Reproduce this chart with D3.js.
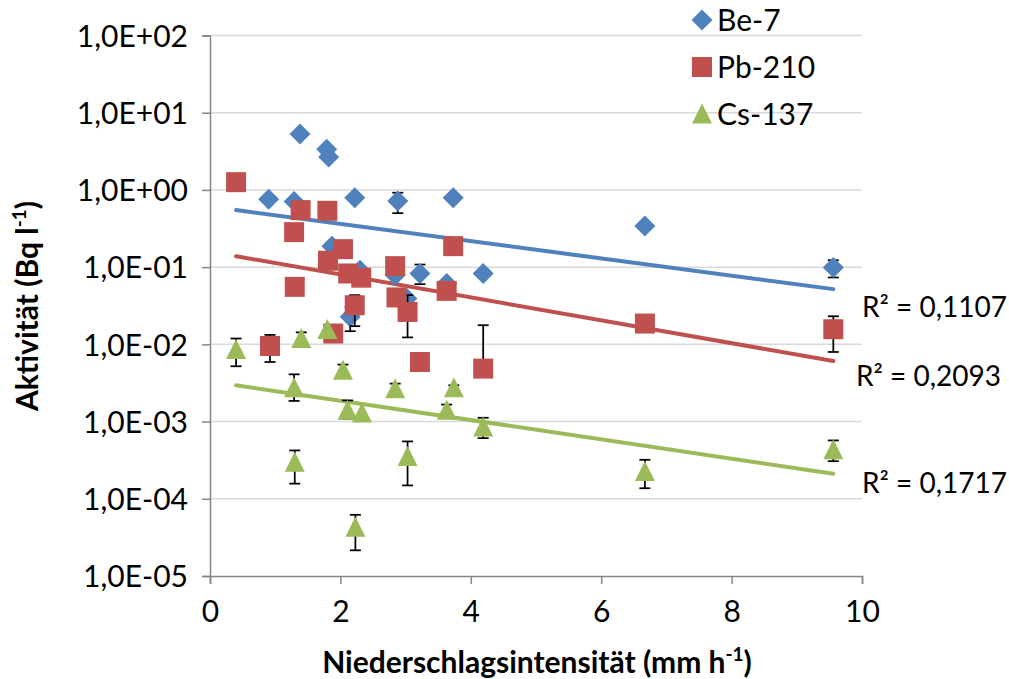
<!DOCTYPE html>
<html>
<head>
<meta charset="utf-8">
<script src="https://cdn.jsdelivr.net/npm/d3@7/dist/d3.min.js"></script>
<style>
  html, body { margin: 0; padding: 0; background: #fff; }
  svg { display: block; }
  text { font-family: Lato, "Open Sans", sans-serif; fill: #000; }
</style>
</head>
<body>
<svg id="chart" width="1009" height="679"></svg>
<script>
// Precipitation intensity (mm/h) and activity concentrations (Bq/l)
const beX  = [0.90, 1.29, 1.38, 1.79, 1.82, 2.22, 2.88, 3.73, 1.87, 2.30, 2.84, 3.22, 4.19, 3.63, 3.02, 2.15, 6.67, 9.56];
const beY  = [0.76, 0.71, 5.3, 3.36, 2.67, 0.79, 0.72, 0.79, 0.187, 0.0914, 0.0788, 0.0829, 0.0829, 0.0615, 0.0393, 0.0227, 0.34, 0.099];
const beLo = [null, null, null, null, null, null, 0.50, null, null, null, null, 0.0602, null, null, null, 0.0148, null, 0.0735];
const beHi = [null, null, null, null, null, null, 0.92, null, null, null, null, 0.108, null, null, null, 0.0303, null, 0.123];

const pbX  = [0.40, 1.39, 1.80, 1.29, 2.04, 1.81, 2.12, 2.32, 2.84, 3.73, 3.63, 2.86, 3.03, 2.22, 1.30, 1.89, 3.22, 4.19, 0.92, 6.67, 9.56];
const pbY  = [1.26, 0.548, 0.537, 0.284, 0.171, 0.121, 0.0828, 0.073, 0.103, 0.187, 0.0493, 0.0405, 0.0263, 0.0321, 0.0555, 0.0138, 0.00591, 0.00485, 0.00953, 0.0186, 0.0157];
const pbLo = [null, null, null, null, null, null, null, null, null, null, null, null, 0.0123, 0.0172, null, null, null, null, 0.00591, null, 0.00797];
const pbHi = [null, null, null, null, null, null, null, null, null, null, null, null, 0.0434, 0.0434, null, null, null, 0.0177, 0.01325, null, 0.0231];

const csX  = [0.40, 1.40, 1.80, 2.04, 1.29, 2.11, 2.33, 2.84, 3.74, 3.63, 4.19, 1.30, 3.03, 2.23, 6.67, 9.56];
const csY  = [0.00857, 0.0119, 0.01556, 0.00461, 0.00275, 0.0014, 0.00129, 0.00267, 0.00275, 0.0014, 0.000849, 0.000298, 0.000354, 0.0000428, 0.000226, 0.000432];
const csLo = [0.0052, 0.0099, null, 0.0039, 0.00185, 0.00109, null, null, null, 0.00118, 0.00061, 0.000157, 0.000149, 0.0000215, 0.000137, 0.000307];
const csHi = [0.0119, 0.0143, null, 0.00547, 0.00409, 0.00188, null, 0.0031, 0.00295, 0.00166, 0.00112, 0.000423, 0.000553, 0.000062, 0.00032, 0.00057];

// Exponential trendlines y = a * exp(b * x)
const seriesNames = ["Be-7", "Pb-210", "Cs-137"];
const trendA = [0.608, 0.159, 0.00331];
const trendB = [-0.2574, -0.3415, -0.288];
const r2Labels = ["R² = 0,1107", "R² = 0,2093", "R² = 0,1717"];

const xTicks = [0, 2, 4, 6, 8, 10];
const yTicks = [1e2, 1e1, 1e0, 1e-1, 1e-2, 1e-3, 1e-4, 1e-5];
const yTickLabels = ["1,0E+02", "1,0E+01", "1,0E+00", "1,0E-01", "1,0E-02", "1,0E-03", "1,0E-04", "1,0E-05"];

const colors = ["#4F81BD", "#C0504D", "#9BBB59"];
const FONT = 30;

const svg = d3.select("#chart");
const plotLeft = 210, plotRight = 862, plotTop = 35.5, plotBottom = 576;

const x = d3.scaleLinear().domain([0, 10]).range([plotLeft, plotRight]);
const y = d3.scaleLog().domain([1e-5, 1e2]).range([plotBottom, plotTop]);

// horizontal gridlines
svg.append("g").selectAll("line").data(yTicks.filter(v => v > 1e-5)).join("line")
  .attr("x1", plotLeft).attr("x2", plotRight)
  .attr("y1", d => y(d)).attr("y2", d => y(d))
  .attr("stroke", "#D9D9D9").attr("stroke-width", 1.5);

// axes
const yAxis = d3.axisLeft(y).tickValues(yTicks).tickSize(8).tickPadding(14)
  .tickFormat((d, i) => yTickLabels[i]);
const gy = svg.append("g").attr("transform", `translate(${plotLeft},0)`).call(yAxis);
gy.select(".domain").attr("stroke", "#868686").attr("stroke-width", 1.5);
gy.selectAll(".tick line").attr("stroke", "#868686").attr("stroke-width", 1.5);
gy.selectAll(".tick text").style("font-size", FONT + "px").attr("dy", "0.36em");

const xAxis = d3.axisBottom(x).tickValues(xTicks).tickSize(8).tickPadding(17)
  .tickFormat(d3.format("d"));
const gx = svg.append("g").attr("transform", `translate(0,${plotBottom})`).call(xAxis);
gx.select(".domain").attr("stroke", "#868686").attr("stroke-width", 1.5);
gx.selectAll(".tick line").attr("stroke", "#868686").attr("stroke-width", 1.5);
gx.selectAll(".tick text").style("font-size", FONT + "px");

// axis titles
const xt = svg.append("text").attr("x", 537).attr("y", 673)
  .attr("text-anchor", "middle").style("font-size", FONT + "px").style("font-weight", "bold");
xt.append("tspan").text("Niederschlagsintensität (mm h");
xt.append("tspan").text("-1").attr("dy", -12).style("font-size", "19px");
xt.append("tspan").text(")").attr("dy", 12);

const yt = svg.append("text").attr("transform", "translate(38,306) rotate(-90)")
  .attr("text-anchor", "middle").style("font-size", FONT + "px").style("font-weight", "bold");
yt.append("tspan").text("Aktivität (Bq l");
yt.append("tspan").text("-1").attr("dy", -12).style("font-size", "19px");
yt.append("tspan").text(")").attr("dy", 12);

// trendlines over the observed x range
const allX = beX.concat(pbX, csX);
const [x0, x1] = d3.extent(allX);
const trendG = svg.append("g");
trendA.forEach((a, i) => {
  const f = v => a * Math.exp(trendB[i] * v);
  trendG.append("line")
    .attr("x1", x(x0)).attr("y1", y(f(x0)))
    .attr("x2", x(x1)).attr("y2", y(f(x1)))
    .attr("stroke", colors[i]).attr("stroke-width", 4).attr("stroke-linecap", "round");
});

// marker shapes
const markerPath = [
  // diamond
  s => `M0,${-s}L${s},0L0,${s}L${-s},0Z`,
  // square
  s => `M${-s},${-s}H${s}V${s}H${-s}Z`,
  // triangle
  s => `M0,${-s * 1.05}L${s},${s * 0.95}L${-s},${s * 0.95}Z`
];
const markerSize = [10.5, 10, 10];

const series = [
  { xs: beX, ys: beY, lo: beLo, hi: beHi },
  { xs: pbX, ys: pbY, lo: pbLo, hi: pbHi },
  { xs: csX, ys: csY, lo: csLo, hi: csHi }
];

series.forEach((s, si) => {
  const pts = s.xs.map((v, i) => ({ x: v, y: s.ys[i], lo: s.lo[i], hi: s.hi[i] }));
  const g = svg.append("g");
  // error bars
  const eb = g.append("g").attr("stroke", "#000").attr("stroke-width", 1.75);
  pts.filter(p => p.lo != null || p.hi != null).forEach(p => {
    const cx = x(p.x);
    const yTop = y(p.hi != null ? p.hi : p.y);
    const yBot = y(p.lo != null ? p.lo : p.y);
    eb.append("line").attr("x1", cx).attr("x2", cx).attr("y1", yTop).attr("y2", yBot);
    if (p.hi != null) eb.append("line").attr("x1", cx - 5.5).attr("x2", cx + 5.5).attr("y1", yTop).attr("y2", yTop);
    if (p.lo != null) eb.append("line").attr("x1", cx - 5.5).attr("x2", cx + 5.5).attr("y1", yBot).attr("y2", yBot);
  });
  // markers
  g.append("g").selectAll("path").data(pts).join("path")
    .attr("transform", d => `translate(${x(d.x)},${y(d.y)})`)
    .attr("d", markerPath[si](markerSize[si]))
    .attr("fill", colors[si]);
});

// R² labels next to the trendline ends
const r2Pos = [[862, 317], [856, 386], [862, 493]];
r2Labels.forEach((t, i) => {
  svg.append("text").attr("x", r2Pos[i][0]).attr("y", r2Pos[i][1])
    .style("font-size", "28px").text(t);
});

// legend
const legend = svg.append("g");
seriesNames.forEach((name, i) => {
  const ly = 20 + i * 47;
  legend.append("path").attr("transform", `translate(702,${ly})`)
    .attr("d", markerPath[i](markerSize[i])).attr("fill", colors[i]);
  legend.append("text").attr("x", 717).attr("y", ly).attr("dy", "0.36em")
    .style("font-size", FONT + "px").text(name);
});
</script>
</body>
</html>
